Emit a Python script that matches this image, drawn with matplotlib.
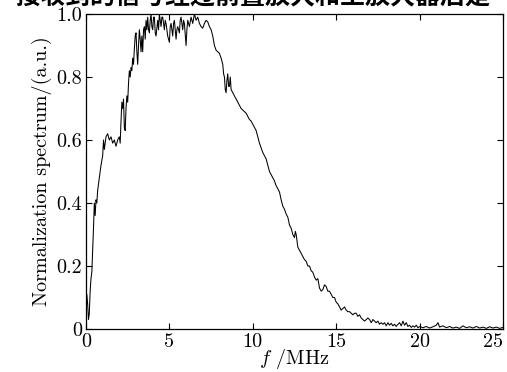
import matplotlib
matplotlib.use("Agg")
import matplotlib.pyplot as plt
import numpy as np

# ---- data ----
freq_rise = [0.0, 0.05, 0.1, 0.15, 0.2, 0.25, 0.3, 0.35, 0.4, 0.45, 0.5, 0.55, 0.6, 0.65, 0.7,
             0.8, 0.9, 1.0, 1.05, 1.1, 1.2, 1.3, 1.4, 1.5, 1.6, 1.7, 1.8, 1.9, 2.0, 2.05,
             2.1, 2.15, 2.2, 2.25, 2.3, 2.35, 2.4, 2.45, 2.5, 2.55, 2.6, 2.65, 2.7, 2.75,
             2.8, 2.85, 2.9, 2.95, 3.0, 3.05, 3.1, 3.15, 3.2, 3.25, 3.3, 3.35, 3.4, 3.45,
             3.5, 3.55, 3.6, 3.65]
spec_rise = [0.02, 0.11, 0.08, 0.03, 0.05, 0.12, 0.16, 0.18, 0.25, 0.32, 0.40, 0.36, 0.41, 0.40, 0.44,
             0.48, 0.52, 0.55, 0.60, 0.57, 0.61, 0.62, 0.60, 0.61, 0.59, 0.60, 0.58, 0.60, 0.61, 0.59,
             0.66, 0.72, 0.70, 0.73, 0.64, 0.63, 0.70, 0.74, 0.72, 0.78, 0.82, 0.80, 0.83, 0.82,
             0.86, 0.84, 0.89, 0.93, 0.94, 0.88, 0.84, 0.90, 0.95, 0.92, 0.88, 0.93, 0.88, 0.95,
             0.96, 0.92, 0.98, 0.95]

freq_top = [3.7, 3.75, 3.8, 3.85, 3.9, 3.95, 4.0, 4.05, 4.1, 4.15, 4.2, 4.3, 4.35, 4.4, 4.5, 4.55,
            4.6, 4.7, 4.75, 4.8, 4.9, 5.0, 5.05, 5.1, 5.2, 5.25, 5.3, 5.4, 5.45, 5.5, 5.6, 5.65,
            5.7, 5.8, 5.85, 5.9, 6.0, 6.05, 6.1, 6.2, 6.3, 6.4, 6.5, 6.6, 6.7, 6.8,
            6.9, 7.0, 7.1, 7.2, 7.3, 7.4, 7.5, 7.6]
spec_top = [0.99, 0.95, 0.94, 0.98, 1.0, 0.96, 0.95, 0.99, 0.99, 0.94, 0.93, 0.98, 0.95, 1.0, 0.96, 0.99,
            0.99, 0.95, 0.98, 0.97, 0.93, 0.91, 0.96, 0.97, 0.93, 0.97, 0.98, 0.92, 0.95, 0.96, 0.94, 0.98,
            0.99, 0.95, 0.98, 0.97, 0.90, 0.95, 0.98, 0.96, 0.99, 0.97, 1.0, 0.98, 0.99, 0.97,
            0.96, 0.955, 0.97, 0.98, 0.975, 0.96, 0.95, 0.93]

freq_fall = [7.7, 7.8, 7.9, 8.0, 8.1, 8.2, 8.25, 8.3, 8.35, 8.4, 8.45, 8.5, 8.55, 8.6, 8.65, 8.7,
             8.8, 8.9, 9.0, 9.1, 9.2, 9.3, 9.4, 9.5, 9.6, 9.7, 9.8, 9.9, 10.0, 10.1, 10.2, 10.3,
             10.4, 10.5, 10.6, 10.7, 10.8, 10.9, 11.0, 11.1, 11.2, 11.3, 11.4, 11.5, 11.6, 11.7,
             11.8, 11.9, 12.0, 12.1, 12.2, 12.3, 12.4, 12.5, 12.55, 12.6, 12.7, 12.8, 12.9, 13.0,
             13.1, 13.2, 13.3, 13.4, 13.5, 13.6, 13.7, 13.8, 13.9, 14.0, 14.1, 14.2, 14.3, 14.4,
             14.5, 14.6, 14.7, 14.8, 14.9, 15.0, 15.1, 15.2, 15.3, 15.4, 15.5, 15.6, 15.7, 15.8,
             15.9, 16.0, 16.1, 16.2, 16.3, 16.4, 16.5, 16.6, 16.7, 16.8, 16.9, 17.0]
spec_fall = [0.90, 0.885, 0.88, 0.875, 0.86, 0.84, 0.81, 0.80, 0.76, 0.75, 0.79, 0.81, 0.77, 0.77, 0.80, 0.76,
             0.75, 0.74, 0.73, 0.72, 0.71, 0.70, 0.695, 0.69, 0.685, 0.675, 0.665, 0.66, 0.65, 0.64, 0.63, 0.61,
             0.59, 0.575, 0.56, 0.55, 0.54, 0.52, 0.50, 0.49, 0.48, 0.47, 0.455, 0.445, 0.435, 0.41,
             0.39, 0.38, 0.365, 0.355, 0.33, 0.32, 0.30, 0.29, 0.31, 0.30, 0.26, 0.25, 0.24, 0.23,
             0.22, 0.215, 0.20, 0.20, 0.185, 0.18, 0.165, 0.155, 0.16, 0.13, 0.12, 0.125, 0.14, 0.135,
             0.12, 0.12, 0.11, 0.10, 0.10, 0.085, 0.08, 0.07, 0.06, 0.065, 0.07, 0.06, 0.055, 0.055,
             0.05, 0.045, 0.05, 0.05, 0.04, 0.045, 0.035, 0.03, 0.025, 0.03, 0.035, 0.03]

freq_tail = [17.1, 17.2, 17.3, 17.4, 17.5, 17.6, 17.7, 17.8, 17.9, 18.0, 18.1, 18.2, 18.3, 18.4,
             18.5, 18.6, 18.7, 18.8, 18.9, 19.0, 19.1, 19.2, 19.3, 19.4, 19.5, 19.6, 19.7, 19.8,
             19.9, 20.0, 20.2, 20.4, 20.6, 20.8, 21.0, 21.1, 21.2, 21.4, 21.6, 21.8, 22.0, 22.2,
             22.4, 22.6, 22.8, 23.0, 23.2, 23.4, 23.6, 23.8, 24.0, 24.2, 24.4, 24.6, 24.8, 25.0]
spec_tail = [0.02, 0.03, 0.025, 0.02, 0.025, 0.015, 0.02, 0.015, 0.02, 0.01, 0.02, 0.012, 0.018, 0.01,
             0.015, 0.008, 0.015, 0.02, 0.01, 0.025, 0.012, 0.02, 0.008, 0.012, 0.005, 0.01, 0.006, 0.012,
             0.004, 0.008, 0.004, 0.008, 0.003, 0.007, 0.012, 0.02, 0.006, 0.01, 0.004, 0.008, 0.003, 0.006,
             0.002, 0.01, 0.004, 0.007, 0.003, 0.008, 0.003, 0.006, 0.002, 0.007, 0.003, 0.006, 0.002, 0.005]

x_ticks = [0, 5, 10, 15, 20, 25]
y_ticks = [0, 0.2, 0.4, 0.6, 0.8, 1.0]
y_tick_labels = ["0", "0.2", "0.4", "0.6", "0.8", "1.0"]
top_text = "接收到的信号经过前置放大和主放大器后是"

freq = freq_rise + freq_top + freq_fall + freq_tail
spec = spec_rise + spec_top + spec_fall + spec_tail

plt.rcParams['mathtext.fontset'] = 'cm'
serif = 'cmr10'
fs = 14.5

fig = plt.figure(figsize=(5.07, 3.72), dpi=100)
ax = fig.add_axes([0.1696, 0.1156, 0.8225, 0.8468])
ax.plot(freq, spec, color='black', linewidth=0.75)
ax.set_xlim(0, 25)
ax.set_ylim(0, 1.0)
ax.set_xticks(x_ticks)
xl = ax.set_xticklabels([str(t) for t in x_ticks], fontfamily=serif, fontsize=fs)
xl[-1].set_horizontalalignment('right')
ax.set_yticks(y_ticks)
ax.set_yticklabels(y_tick_labels, fontfamily=serif, fontsize=fs)
ax.tick_params(direction='in', length=4.5, width=0.8, top=True, right=True, pad=3)
for s in ax.spines.values():
    s.set_linewidth(0.9)

ax.set_ylabel("Normalization spectrum/(a.u.)", fontfamily=serif, fontsize=fs, labelpad=3)
ax.set_xlabel(r"$f$ /MHz", fontfamily=serif, fontsize=fs, labelpad=-3)

fig.text(0.5, 1.006, top_text, ha='center', va='center', fontsize=18,
         family=['Noto Sans CJK SC', 'DejaVu Sans'], fontweight='bold')

fig.savefig("out.png", dpi=100)
